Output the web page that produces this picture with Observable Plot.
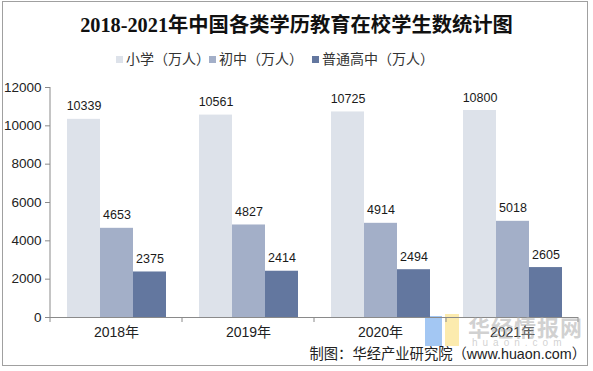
<!DOCTYPE html>
<html><head><meta charset="utf-8">
<script src="https://cdn.jsdelivr.net/npm/d3@7"></script>
<script src="https://cdn.jsdelivr.net/npm/@observablehq/plot@0.6"></script>
<style>
body{margin:0;width:593px;height:371px;position:relative;background:#fff;overflow:hidden;font-family:"Liberation Sans","Noto Sans CJK SC",sans-serif;}
#frame{position:absolute;left:2px;top:1px;width:586px;height:365px;border:1px solid #a0a0a0;box-sizing:border-box;}
#title{position:absolute;left:0;width:593px;top:11px;text-align:center;font-weight:bold;font-size:20.3px;font-family:"Liberation Serif","Noto Sans CJK SC",serif;color:#111;line-height:28px;}
.leg{position:absolute;top:50px;font-size:14px;line-height:18px;color:#333;white-space:nowrap;}
.leg i{display:inline-block;width:7px;height:7px;margin-right:3px;vertical-align:1px;}
#chart{position:absolute;left:0;top:75px;}
#wm{position:absolute;left:468px;top:310px;font-size:22px;font-weight:bold;color:rgba(170,170,170,0.55);letter-spacing:1px;}
#wm2{position:absolute;left:472px;top:337px;font-size:10px;color:rgba(180,180,180,0.6);letter-spacing:5px;}
#logo1{position:absolute;left:425px;top:316px;width:17px;height:30px;background:rgba(140,185,240,0.8);}
#logo2{position:absolute;left:445px;top:314px;width:14px;height:32px;background:rgba(252,232,160,0.85);}
#caption{position:absolute;right:7px;top:345px;font-size:14.3px;line-height:18px;color:#222;}
</style></head>
<body>
<div id="frame"></div>
<div id="title">2018-2021年中国各类学历教育在校学生数统计图</div>
<div id="legend"></div>
<div id="logo1"></div><div id="logo2"></div>
<div id="chart"></div>
<div id="wm">华经情报网</div>
<div id="wm2">huaon.com</div>
<div id="caption">制图：华经产业研究院（www.huaon.com）</div>
<script>
const years = ["2018年","2019年","2020年","2021年"];
const series = ["小学（万人）","初中（万人）","普通高中（万人）"];
const primary = [10339,10561,10725,10800];
const junior = [4653,4827,4914,5018];
const senior = [2375,2414,2494,2605];
const colors = ["#dde2ea","#a3afc8","#63779f"];
const yTicks = [0,2000,4000,6000,8000,10000,12000];
const legendLeft = [116,209,312];

const data = years.flatMap((y,i)=>[primary,junior,senior].map((arr,j)=>({year:y, series:series[j], value:arr[i]})));

const leg = document.getElementById("legend");
series.forEach((s,i)=>{
  const d = document.createElement("div");
  d.className="leg"; d.style.left=legendLeft[i]+"px";
  d.innerHTML = `<i style="background:${colors[i]}"></i>${s}`;
  leg.appendChild(d);
});

const font = '"Liberation Sans","Noto Sans CJK SC",sans-serif';
const plot = Plot.plot({
  width:593, height:270, marginLeft:50, marginRight:15, marginTop:12, marginBottom:28,
  fx:{domain:years, padding:0, label:null},
  x:{domain:series, paddingInner:0, paddingOuter:0.5, axis:null},
  y:{domain:[0,12000], label:null},
  color:{domain:series, range:colors},
  style:{fontFamily:font, fontSize:"14px", color:"#222", background:"transparent"},
  marks:[
    Plot.barY(data,{fx:"year", x:"series", y:"value", fill:"series"}),
    Plot.ruleY([0],{stroke:"#8a8a8a"}),
    Plot.text(data,{fx:"year", x:"series", y:"value", text:d=>String(d.value), dy:-13, fontSize:12.5, fill:"#1a1a1a"}),
    Plot.axisY({ticks:yTicks, tickSize:5, tickPadding:4, fontSize:13.5, label:null, tickFormat:d=>String(d), stroke:"#8a8a8a", fill:"#222"}),
    Plot.axisFx({anchor:"bottom", tickSize:0, tickPadding:10, fontSize:14, label:null, fill:"#222"})
  ]
});
document.getElementById("chart").appendChild(plot);

// axis line and group boundary ticks derived from the plot's scales
const fx = plot.scale("fx"), ys = plot.scale("y");
const svg = d3.select(plot);
const x0 = fx.apply(years[0]);
const y0 = ys.apply(0), yTop = ys.apply(12000);
svg.append("line").attr("x1",x0).attr("x2",x0).attr("y1",yTop).attr("y2",y0).attr("stroke","#8a8a8a");
const edges = years.map(y=>fx.apply(y)).concat([fx.apply(years[years.length-1])+fx.bandwidth]);
svg.selectAll("line.edge").data(edges).join("line").attr("class","edge")
  .attr("x1",d=>d).attr("x2",d=>d).attr("y1",y0).attr("y2",y0+5).attr("stroke","#8a8a8a");
</script>
</body></html>
